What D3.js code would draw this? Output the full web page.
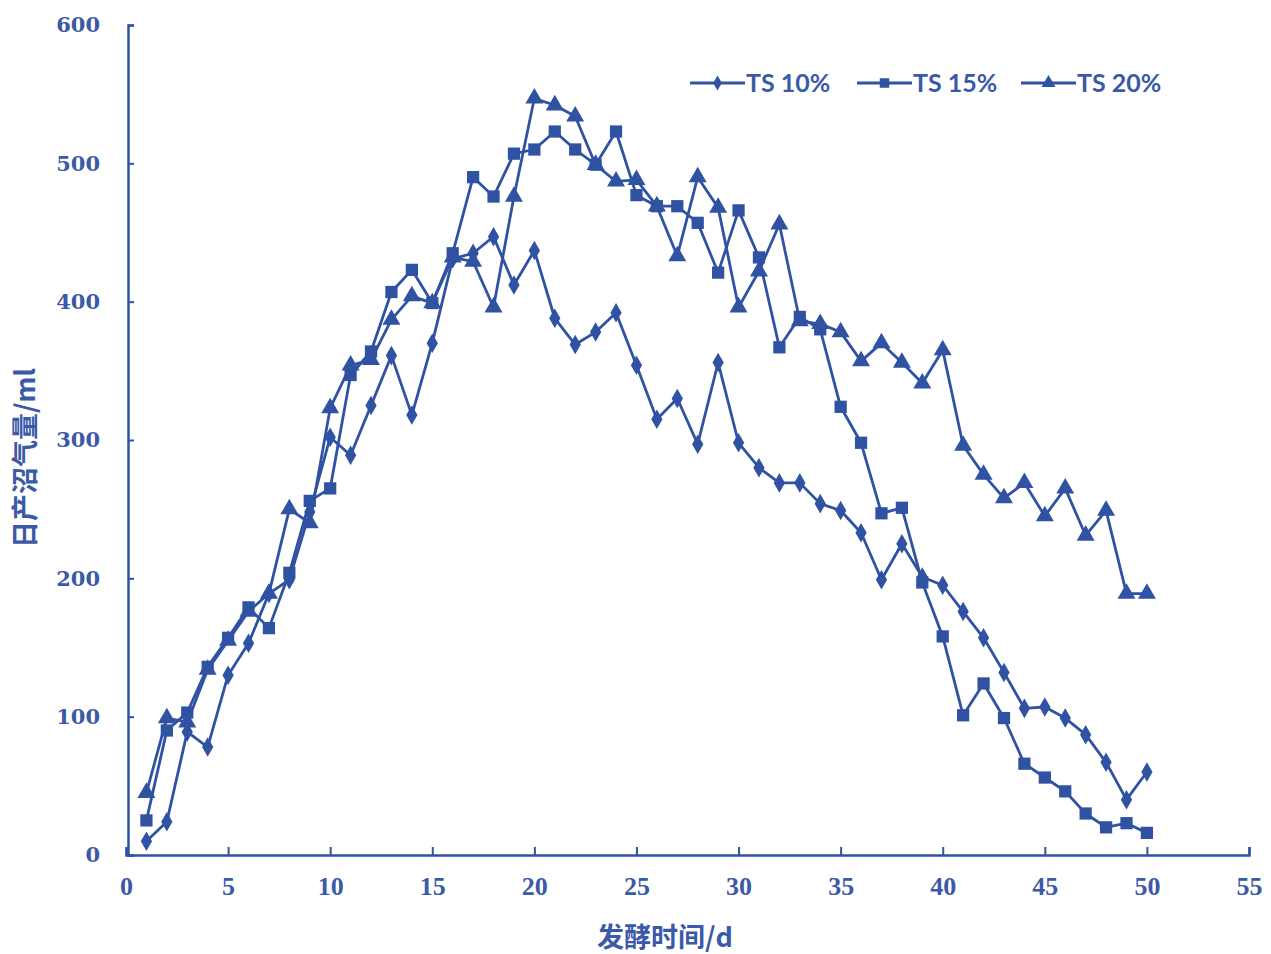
<!DOCTYPE html>
<html>
<head>
<meta charset="utf-8">
<script src="https://cdnjs.cloudflare.com/ajax/libs/d3/7.8.5/d3.min.js"></script>
<style>
  body { margin: 0; background: #fff; }
  .x-label { font-family: "Liberation Serif", serif; font-weight: bold; font-size: 26px; fill: #3a5aa8; }
  .y-label { font-family: "DejaVu Serif", serif; font-weight: bold; font-size: 21px; fill: #3a5aa8; }
  .axis-title { font-family: "Noto Sans CJK SC", serif; font-weight: bold; font-size: 27px; fill: #3a5aa8; }
  .legend-text { font-family: Lato, "Liberation Sans", sans-serif; font-weight: bold; font-size: 25px; fill: #3a5aa8; }
</style>
</head>
<body>
<div id="chart"></div>
<script>
// 发酵时间 (days)
var days = d3.range(1, 51);

var ts10 = [10, 24, 89, 78, 130, 153, 189, 199, 248, 302,
            289, 325, 361, 318, 370, 431, 435, 447, 412, 437,
            388, 369, 378, 392, 354, 315, 330, 297, 356, 298,
            280, 269, 269, 254, 249, 233, 199, 225, 201, 195,
            176, 157, 132, 106, 107, 99, 87, 67, 40, 60];

var ts15 = [25, 90, 103, 136, 157, 179, 164, 204, 256, 265,
            347, 364, 407, 423, 399, 435, 490, 476, 507, 510,
            523, 510, 499, 523, 477, 469, 469, 457, 421, 466,
            432, 367, 389, 380, 324, 298, 247, 251, 197, 158,
            101, 124, 99, 66, 56, 46, 30, 20, 23, 16];

var ts20 = [45, 99, 96, 134, 155, 176, 189, 250, 240, 323,
            354, 358, 387, 404, 399, 432, 429, 396, 476, 547,
            542, 534, 499, 487, 488, 469, 433, 490, 468, 396,
            422, 456, 386, 384, 378, 357, 370, 356, 341, 365,
            296, 275, 258, 269, 245, 265, 231, 249, 189, 189];

var xTicks = d3.range(0, 56, 5);
var yTicks = [0, 100, 200, 300, 400, 500, 600];

var seriesNames = ["TS 10%", "TS 15%", "TS 20%"];
var seriesData = [ts10, ts15, ts20];
var markerTypes = [d3.symbolDiamond, d3.symbolSquare, d3.symbolTriangle];
var markerSizes = [110, 150, 140];

var color = "#2f52a3";
var width = 1271, height = 954;
var margin = {top: 25, right: 22, bottom: 99, left: 126};

var svg = d3.select("#chart").append("svg")
    .attr("width", width)
    .attr("height", height);

var x = d3.scaleLinear().domain([0, 55]).range([margin.left, width - margin.right]);
var y = d3.scaleLinear().domain([0, 600]).range([height - margin.bottom, margin.top]);

// axes
var xAxis = svg.append("g")
    .attr("transform", "translate(0," + y(0) + ")")
    .call(d3.axisBottom(x).tickValues(xTicks).tickSize(-8).tickPadding(22).tickFormat(d3.format("d")));
var yAxis = svg.append("g")
    .attr("transform", "translate(" + (x(0) + 2) + ",0)")
    .call(d3.axisLeft(y).tickValues(yTicks).tickSize(-6).tickPadding(28));

[xAxis, yAxis].forEach(function (g, k) {
    g.select(".domain").attr("stroke", color).attr("stroke-width", 2.5);
    g.selectAll(".tick line").attr("stroke", color).attr("stroke-width", 2);
    g.selectAll(".tick text").attr("class", k === 0 ? "x-label" : "y-label").attr("fill", null);
});

// axis titles
svg.append("text")
    .attr("class", "axis-title")
    .attr("text-anchor", "middle")
    .attr("x", 665)
    .attr("y", 947)
    .text("发酵时间/d");

svg.append("text")
    .attr("class", "axis-title")
    .attr("text-anchor", "middle")
    .attr("transform", "translate(35,458) rotate(-90)")
    .text("日产沼气量/ml");

// lines + markers
var line = d3.line()
    .x(function (d, i) { return x(days[i]); })
    .y(function (d) { return y(d); });

seriesData.forEach(function (values, s) {
    svg.append("path")
        .datum(values)
        .attr("fill", "none")
        .attr("stroke", color)
        .attr("stroke-width", 2.8)
        .attr("stroke-linejoin", "round")
        .attr("d", line);

    svg.append("g").selectAll("path")
        .data(values)
        .enter().append("path")
        .attr("transform", function (d, i) { return "translate(" + x(days[i]) + "," + y(d) + ")"; })
        .attr("d", d3.symbol().type(markerTypes[s]).size(markerSizes[s]))
        .attr("fill", color);
});

// legend
var legendX = [690, 857, 1021];
var legend = svg.selectAll(".legend")
    .data(seriesNames)
    .enter().append("g")
    .attr("class", "legend")
    .attr("transform", function (d, i) { return "translate(" + legendX[i] + ",83)"; });

legend.append("line")
    .attr("x1", 0).attr("x2", 55)
    .attr("stroke", color).attr("stroke-width", 2.8);

legend.append("path")
    .attr("transform", "translate(27.5,0)")
    .attr("d", function (d, i) { return d3.symbol().type(markerTypes[i]).size(markerSizes[i] * 0.6)(); })
    .attr("fill", color);

legend.append("text")
    .attr("class", "legend-text")
    .attr("x", 56)
    .attr("dy", "0.36em")
    .text(function (d) { return d; });
</script>
</body>
</html>
